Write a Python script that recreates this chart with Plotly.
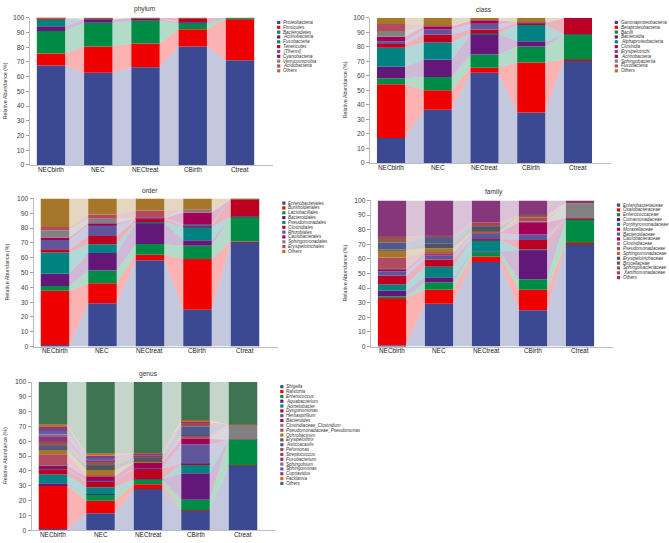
import plotly.graph_objects as go

GROUPS = ["NECbirth", "NEC", "NECtreat", "CBirth", "Ctreat"]

PALETTE = [
    "#3B4992", "#EE0000", "#008B45", "#631879", "#008280", "#BB0021",
    "#5F559B", "#A20056", "#808180", "#B24A60", "#A6762A", "#50545F",
    "#4F5A8C", "#8E5A4C", "#A8405E", "#86367A", "#9A5C8C", "#5E63A0",
    "#7A3F88", "#E0621E", "#3E7451",
]

PHYLUM_TAXA = ["Proteobacteria", "Firmicutes", "Bacteroidetes", "Actinobacteria",
               "Fusobacteria", "Tenericutes", "[Thermi]", "Cyanobacteria",
               "Verrucomicrobia", "Acidobacteria", "Others"]
PHYLUM_VALUES = [
    [67.5, 62.6, 66.4, 80.5, 71.1],
    [8.3, 17.9, 16.1, 11.7, 28.0],
    [15.2, 16.1, 15.5, 4.0, 0.3],
    [3.2, 2.5, 1.6, 0.8, 0.3],
    [4.7, 0.1, 0.1, 0.2, 0.0],
    [0.5, 0.1, 0.1, 2.5, 0.0],
    [0.2, 0.1, 0.0, 0.1, 0.0],
    [0.1, 0.1, 0.0, 0.1, 0.0],
    [0.1, 0.0, 0.0, 0.0, 0.0],
    [0.1, 0.0, 0.0, 0.0, 0.0],
    [0.1, 0.5, 0.2, 0.1, 0.3],
]

CLASS_TAXA = ["Gammaproteobacteria", "Betaproteobacteria", "Bacilli", "Bacteroidia",
              "Alphaproteobacteria", "Clostridia", "Erysipelotrichi", "Actinobacteria",
              "Sphingobacteriia", "Fusobacteria", "Others"]
CLASS_VALUES = [
    [17.2, 36.7, 62.2, 34.8, 71.0],
    [37.1, 13.3, 3.4, 34.4, 0.3],
    [4.1, 9.3, 9.1, 11.1, 17.2],
    [7.9, 12.0, 14.2, 3.6, 0.1],
    [13.1, 11.7, 0.3, 11.1, 0.1],
    [2.5, 5.5, 2.7, 1.4, 11.2],
    [1.8, 3.4, 4.0, 0.3, 0.0],
    [3.2, 2.2, 2.3, 0.3, 0.1],
    [4.0, 0.3, 0.2, 0.1, 0.0],
    [4.8, 0.3, 0.1, 0.1, 0.0],
    [4.3, 5.3, 1.5, 2.8, 0.0],
]

ORDER_TAXA = ["Enterobacteriales", "Burkholderiales", "Lactobacillales", "Bacteroidales",
              "Pseudomonadales", "Clostridiales", "Rhizobiales", "Caulobacterales",
              "Sphingomonadales", "Erysipelotrichales", "Others"]
ORDER_VALUES = [
    [1.1, 29.2, 58.2, 24.8, 70.6],
    [36.5, 13.5, 3.7, 34.3, 0.3],
    [3.3, 8.6, 7.3, 9.0, 16.7],
    [8.2, 11.8, 14.4, 3.6, 0.1],
    [14.4, 5.9, 0.3, 9.1, 0.1],
    [2.2, 5.6, 2.4, 0.8, 11.9],
    [6.2, 7.7, 0.1, 1.1, 0.0],
    [1.8, 0.9, 0.2, 7.8, 0.0],
    [4.8, 3.1, 0.3, 1.8, 0.1],
    [2.3, 2.9, 4.9, 0.2, 0.0],
    [19.2, 10.8, 8.2, 7.5, 0.2],
]

FAMILY_TAXA = ["Enterobacteriaceae", "Oxalobacteraceae", "Enterococcaceae",
               "Comamonadaceae", "Porphyromonadaceae", "Moraxellaceae", "Bacteroidaceae",
               "Caulobacteraceae", "Clostridiaceae", "Pseudomonadaceae",
               "Sphingomonadaceae", "Erysipelotrichaceae", "Brucellaceae",
               "Sphingobacteriaceae", "Xanthomonadaceae", "Others"]
FAMILY_VALUES = [
    [0.9, 29.3, 57.8, 24.8, 70.2],
    [32.5, 9.5, 3.8, 14.0, 0.7],
    [0.9, 5.0, 3.0, 7.2, 16.5],
    [3.8, 3.6, 0.3, 20.1, 0.2],
    [4.3, 7.2, 8.2, 0.3, 0.0],
    [6.1, 5.0, 0.4, 6.5, 0.1],
    [3.0, 2.7, 4.1, 3.8, 0.0],
    [1.8, 1.4, 0.2, 8.6, 0.0],
    [0.2, 0.3, 0.2, 0.3, 10.4],
    [7.4, 0.5, 0.3, 2.9, 0.0],
    [5.2, 2.8, 0.2, 1.2, 0.1],
    [0.3, 3.4, 3.9, 0.1, 0.0],
    [4.7, 4.5, 0.2, 0.1, 0.0],
    [4.1, 0.3, 0.5, 0.1, 0.0],
    [0.5, 0.3, 2.0, 0.3, 0.0],
    [24.3, 24.2, 14.9, 9.7, 1.8],
]

GENUS_TAXA = ["Shigella", "Ralstonia", "Enterococcus", "Aquabacterium", "Acinetobacter",
              "Dysgonomonas", "Herbaspirillum", "Bacteroides", "Clostridiaceae_Clostridium",
              "Pseudomonadaceae_Pseudomonas", "Ochrobactrum", "Erysipelothrix",
              "Asticcacaulis", "Pelomonas", "Streptococcus", "Fusobacterium", "Sphingobium",
              "Sphingomonas", "Cupriavidus", "Facklamia", "Others"]
GENUS_VALUES = [
    [0.7, 11.4, 27.7, 13.2, 43.5],
    [29.4, 8.5, 3.3, 0.3, 0.2],
    [0.3, 4.0, 2.9, 7.0, 17.2],
    [1.2, 0.3, 0.3, 17.9, 0.1],
    [6.0, 4.8, 0.2, 6.2, 0.0],
    [3.1, 4.0, 7.3, 0.3, 0.0],
    [0.5, 0.3, 0.2, 13.1, 0.0],
    [2.5, 2.8, 3.6, 3.6, 0.0],
    [0.3, 0.3, 0.2, 0.3, 10.3],
    [7.3, 0.4, 0.2, 1.8, 0.0],
    [3.1, 3.8, 0.2, 0.3, 0.0],
    [0.3, 3.0, 3.0, 0.2, 0.0],
    [2.1, 0.3, 0.2, 6.0, 0.0],
    [2.6, 2.3, 0.2, 1.4, 0.0],
    [0.5, 0.3, 0.4, 1.3, 0.0],
    [3.5, 0.4, 0.6, 0.1, 0.0],
    [1.2, 0.3, 0.2, 0.1, 0.0],
    [2.4, 2.0, 0.5, 0.1, 0.0],
    [2.6, 1.0, 0.2, 0.1, 0.0],
    [1.6, 1.4, 0.6, 0.8, 0.1],
    [28.8, 48.4, 48.0, 25.9, 28.6],
]

# title, taxa, values, first bar centre px, bar spacing px, plot top px, plot bottom px,
# title centre x px, y-title x px
PANELS = [
    ("phylum", PHYLUM_TAXA, PHYLUM_VALUES, 51, 47.25, 14, 163, 145, 5),
    ("class", CLASS_TAXA, CLASS_VALUES, 391, 46.75, 14, 161, 484, 345),
    ("order", ORDER_TAXA, ORDER_VALUES, 55, 47.5, 197, 347, 150, 7),
    ("family", FAMILY_TAXA, FAMILY_VALUES, 392, 47, 199, 347, 494, 345),
    ("genus", GENUS_TAXA, GENUS_VALUES, 53, 47.5, 383, 533, 148, 5),
]

W, H = 669, 543
X_LO, X_HI = -0.45, 4.7
BAR_W = 0.6
FONT = "Liberation Sans, Arial, sans-serif"
TEXT = "#333333"


def fx(px):
    return px / W


def fy(py):
    return 1 - py / H


def rgba(hex_colour, alpha):
    h = hex_colour.lstrip("#")
    r, g, b = int(h[0:2], 16), int(h[2:4], 16), int(h[4:6], 16)
    return f"rgba({r},{g},{b},{alpha})"


fig = go.Figure()
layout = {}
annotations = []
shapes = []

for i, (title, taxa, values, c0, step, top, bottom, tx, ytx) in enumerate(PANELS, start=1):
    xa = "x" if i == 1 else f"x{i}"
    ya = "y" if i == 1 else f"y{i}"
    left = c0 + X_LO * step
    right = c0 + X_HI * step

    base = [0.0] * len(GROUPS)
    for k, (taxon, vals) in enumerate(zip(taxa, values)):
        colour = PALETTE[k]
        upper = [b + v for b, v in zip(base, vals)]
        bx, by = [], []
        for g in range(len(GROUPS) - 1):
            bx += [g + BAR_W / 2, g + BAR_W / 2, g + 1 - BAR_W / 2, g + 1 - BAR_W / 2, None]
            by += [base[g], upper[g], upper[g + 1], base[g + 1], None]
        fig.add_scatter(
            x=bx, y=by, fill="toself", fillcolor=rgba(colour, 0.3),
            mode="lines", line=dict(width=0), xaxis=xa, yaxis=ya,
            hoverinfo="skip", showlegend=False,
        )
        fig.add_bar(
            x=list(range(len(GROUPS))), y=vals, base=base, width=BAR_W,
            marker=dict(color=colour, line=dict(width=0)), name=taxon,
            xaxis=xa, yaxis=ya, showlegend=False,
            hovertemplate=f"{taxon}<br>%{{y:.1f}}%<extra></extra>",
        )
        base = upper

        # hand-drawn legend entry
        row_y = top + 4.7 + k * 4.9
        shapes.append(dict(
            type="rect", xref="paper", yref="paper",
            x0=fx(right + 4), x1=fx(right + 7.2),
            y0=fy(row_y + 1.6), y1=fy(row_y - 1.6),
            fillcolor=colour, line=dict(width=0),
        ))
        annotations.append(dict(
            text=f"<i>{taxon}</i>", xref="paper", yref="paper",
            x=fx(right + 8), y=fy(row_y), xanchor="left", yanchor="middle",
            showarrow=False, font=dict(size=4.6, color=TEXT, family=FONT),
        ))

    # category labels under the bars
    for g, name in enumerate(GROUPS):
        annotations.append(dict(
            text=name, xref=xa, yref="paper", x=g, y=fy(bottom + 4.2),
            xanchor="center", yanchor="middle", showarrow=False,
            font=dict(size=6.4, color="#222222", family=FONT),
        ))

    layout[f"xaxis{'' if i == 1 else i}"] = dict(
        domain=[fx(left), fx(right)], range=[X_LO, X_HI], anchor=ya,
        showticklabels=False, ticks="",
        showline=True, linecolor="#BDBDBD", linewidth=1,
        showgrid=False, zeroline=False, fixedrange=True,
    )
    layout[f"yaxis{'' if i == 1 else i}"] = dict(
        domain=[fy(bottom), fy(top)], range=[0, 100], anchor=xa,
        dtick=10, ticks="outside", ticklen=3, tickcolor="#9E9E9E",
        showline=True, linecolor="#BDBDBD", linewidth=1,
        showgrid=False, zeroline=False, fixedrange=True,
        tickfont=dict(size=6.8, color="#444444", family=FONT),
    )
    annotations.append(dict(
        text=title, xref="paper", yref="paper", x=fx(tx), y=fy(top - 8.5),
        xanchor="center", yanchor="middle", showarrow=False,
        font=dict(size=6.6, color=TEXT, family=FONT),
    ))
    annotations.append(dict(
        text="Relative Abundance (%)", xref="paper", yref="paper",
        x=fx(ytx), y=fy((top + bottom) / 2), xanchor="center", yanchor="middle",
        textangle=-90, showarrow=False,
        font=dict(size=5.3, color=TEXT, family=FONT),
    ))

fig.update_layout(
    width=W, height=H, autosize=False,
    margin=dict(l=0, r=0, t=0, b=0),
    paper_bgcolor="white", plot_bgcolor="white",
    barmode="overlay", showlegend=False,
    font=dict(family=FONT, color=TEXT),
    annotations=annotations, shapes=shapes,
    **layout,
)

# the page's default body margin would shift the figure by 8px
fig.write_html(
    "out.html",
    config={"displayModeBar": False},
    post_script="document.body.style.margin='0';document.body.style.overflow='hidden';",
)
